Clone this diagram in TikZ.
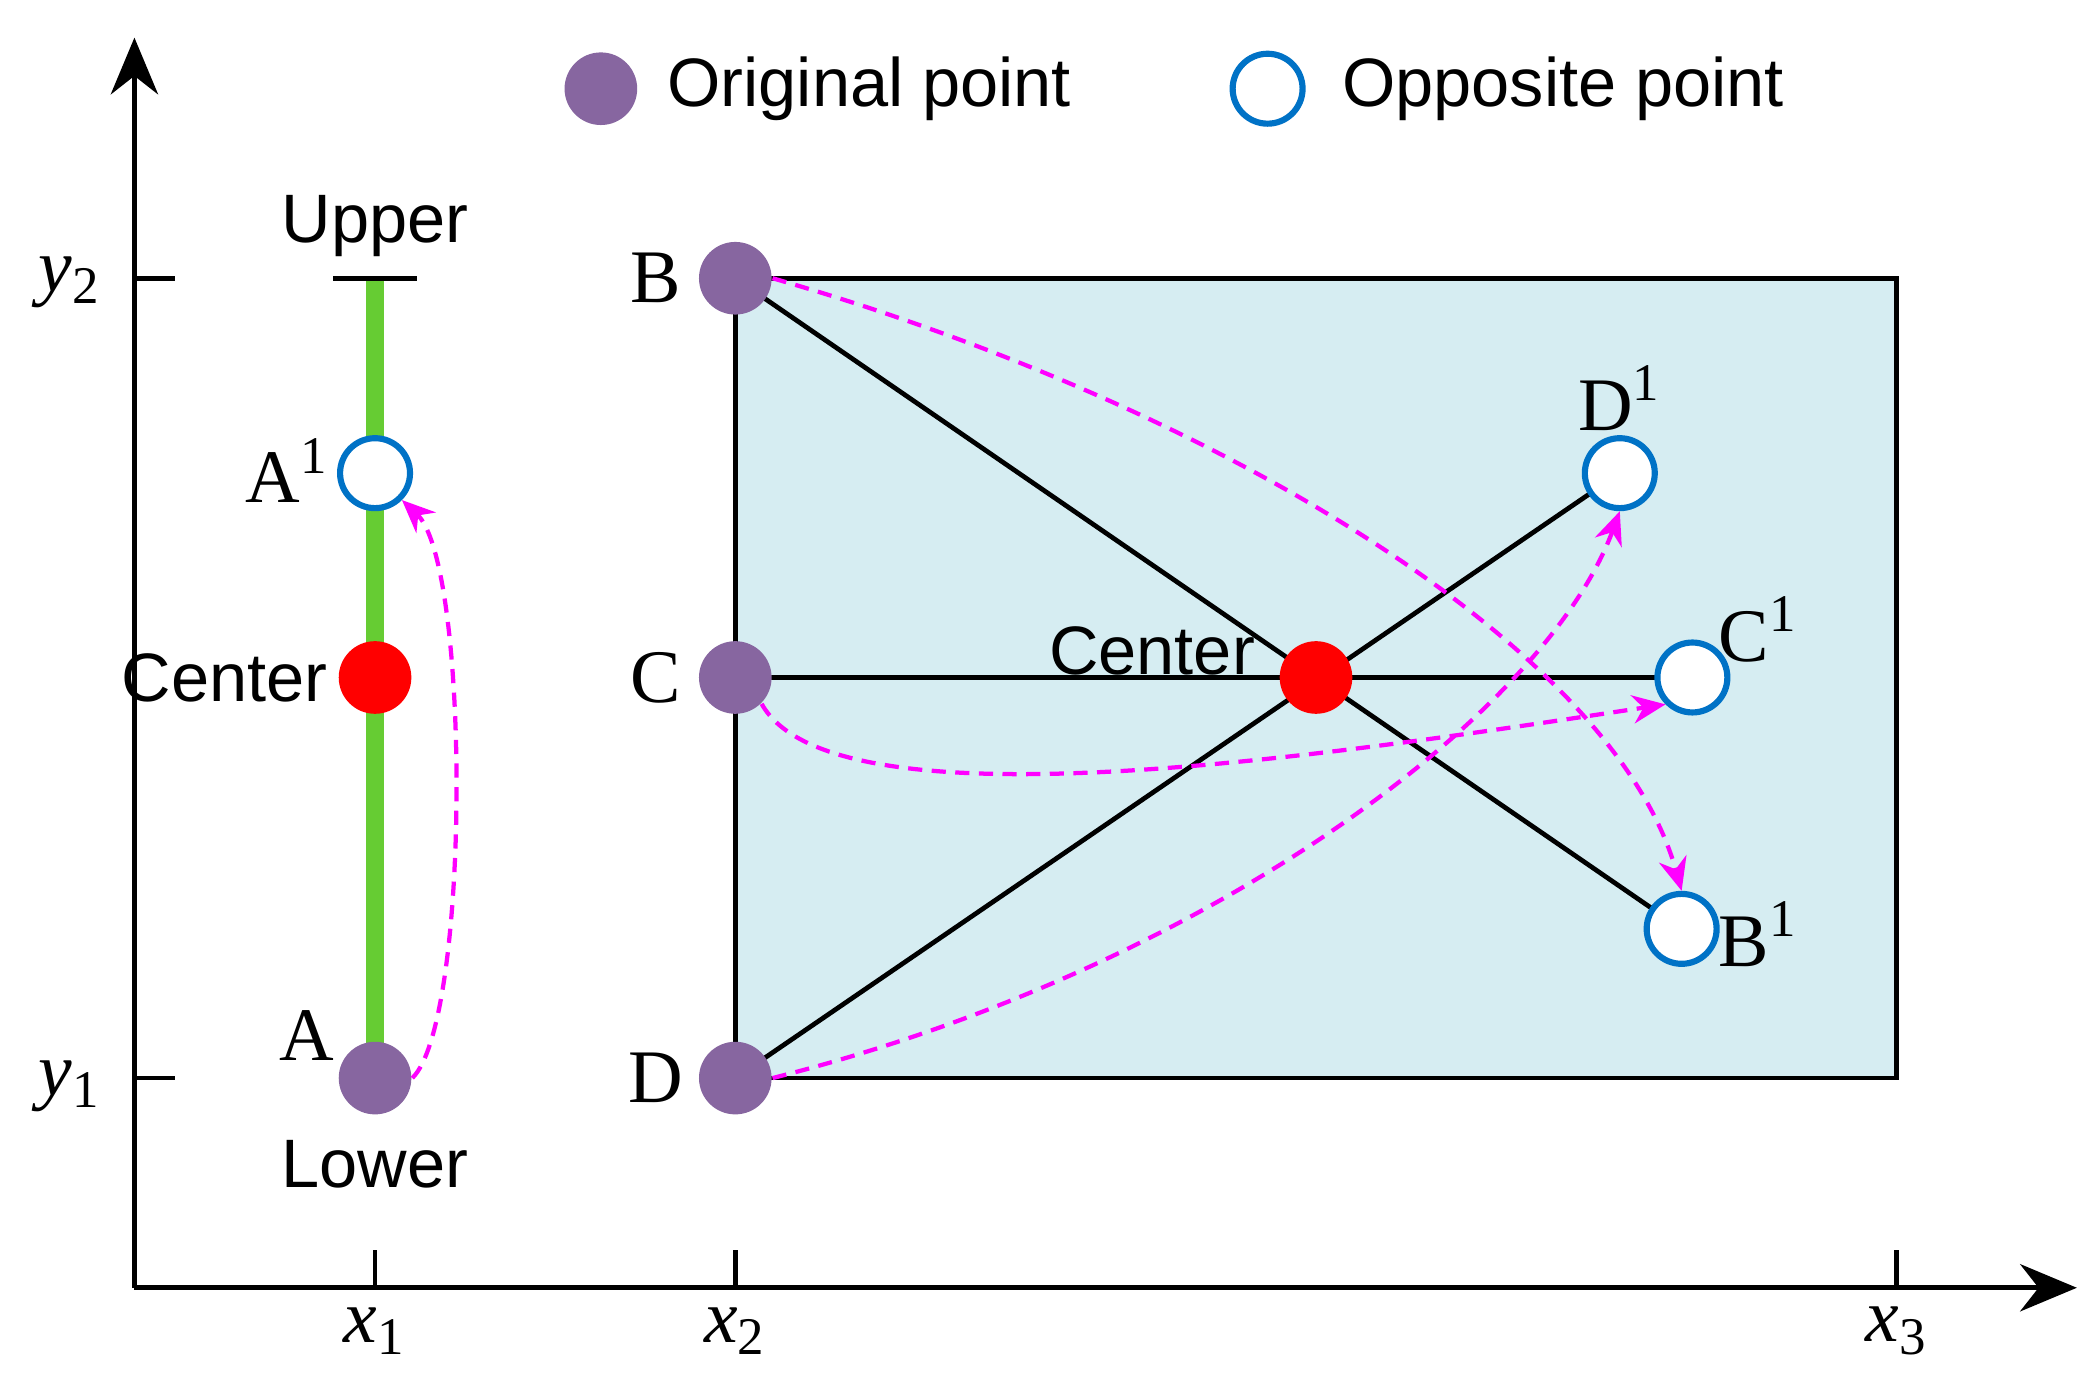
\documentclass[tikz,border=0pt]{standalone}
\usepackage{fontspec}
\setmainfont{Liberation Serif}
\newfontfamily\sns{Liberation Sans}
\usetikzlibrary{arrows.meta}
\definecolor{pur}{RGB}{135,102,160}
\definecolor{obl}{RGB}{0,114,198}
\definecolor{bgb}{RGB}{214,237,242}
\definecolor{gr}{RGB}{102,204,51}
\definecolor{mag}{RGB}{255,0,255}
\begin{document}
\begin{tikzpicture}[x=0.01cm,y=-0.01cm,
 orig/.style={circle,fill=pur,minimum size=0.54cm,inner sep=0pt},
 opp/.style={circle,draw=obl,line width=1.3pt,fill=white,minimum size=0.52cm,inner sep=0pt},
 ctr/.style={circle,fill=red,minimum size=0.54cm,inner sep=0pt},
 lab/.style={font=\fontsize{16}{18}\selectfont},
 slab/.style={font=\sns\fontsize{14.5}{16}\selectfont},
 magarr/.style={mag,densely dashed,line width=0.9pt,-{Stealth[length=7pt,width=6pt]}},
 ax/.style={line width=1pt}]
\useasboundingbox (0,0) rectangle (1560,1040);
% axes
\draw[ax,-{Stealth[length=12pt,width=10pt]}] (100,958) -- (100,28);
\draw[ax,-{Stealth[length=12pt,width=10pt]}] (100,958) -- (1545,958);
\foreach \y in {207,802} \draw[ax] (100,\y) -- (130,\y);
\foreach \x in {279,547,1411} \draw[ax] (\x,958) -- (\x,930);
\node[lab] at (52,210) {\textit{y}\textsubscript{2}};
\node[lab] at (52,808) {\textit{y}\textsubscript{1}};
\node[lab] at (279,990) {\textit{x}\textsubscript{1}};
\node[lab] at (547,990) {\textit{x}\textsubscript{2}};
\node[lab] at (1411,990) {\textit{x}\textsubscript{3}};
% rectangle
\draw[fill=bgb,line width=1pt] (547,207) rectangle (1411,802);
% left segment
\draw[gr,line width=4pt] (279,207) -- (279,802);
\draw[line width=1pt] (248,207) -- (310,207);
\node[slab] at (279,168) {Upper};
\node[slab] at (279,866) {Lower};
\node[opp] (A1) at (279,352) {};
\node[ctr] (Cl) at (279,504) {};
\node[orig] (A) at (279,802) {};
\node[lab] at (214,350) {A\textsuperscript{1}};
\node[slab,anchor=east,inner sep=1pt] at (248,504) {Center};
\node[lab] at (228,770) {A};
% right
\coordinate (B) at (547,207);
\coordinate (C) at (547,504);
\coordinate (D) at (547,802);
\coordinate (Cr) at (979,504);
\coordinate (D1) at (1205,352);
\coordinate (C1) at (1259,504);
\coordinate (B1) at (1251,691);
\draw[line width=1pt] (B) -- (D);
\draw[line width=1pt] (B) -- (B1);
\draw[line width=1pt] (D) -- (D1);
\draw[line width=1pt] (C) -- (C1);
\node[orig] (Bn) at (B) {};
\node[orig] (Cn) at (C) {};
\node[orig] (Dn) at (D) {};
\node[ctr] (Crn) at (Cr) {};
\node[opp] (D1n) at (D1) {};
\node[opp] (C1n) at (C1) {};
\node[opp] (B1n) at (B1) {};
\node[lab] at (488,207) {B};
\node[lab] at (488,504) {C};
\node[lab] at (488,802) {D};
\node[lab] at (1205,296) {D\textsuperscript{1}};
\node[lab] at (1308,468) {C\textsuperscript{1}};
\node[lab] at (1308,695) {B\textsuperscript{1}};
\node[slab] at (857,484) {Center};
% dashed arrows
\draw[magarr] (A.east) .. controls (350,760) and (350,420) .. (A1.south east);
\draw[magarr] (Bn.east) .. controls (900,300) and (1200,480) .. (B1n.north);
\draw[magarr] (Cn.south east) .. controls (620,620) and (1000,560) .. (C1n.south west);
\draw[magarr] (Dn.east) .. controls (900,720) and (1150,530) .. (D1n.south);
% legend
\node[orig] at (447,66) {};
\node[slab,anchor=west] at (484,66) {Original point};
\node[opp] at (943,66) {};
\node[slab,anchor=west] at (986,66) {Opposite point};
\end{tikzpicture}
\end{document}
